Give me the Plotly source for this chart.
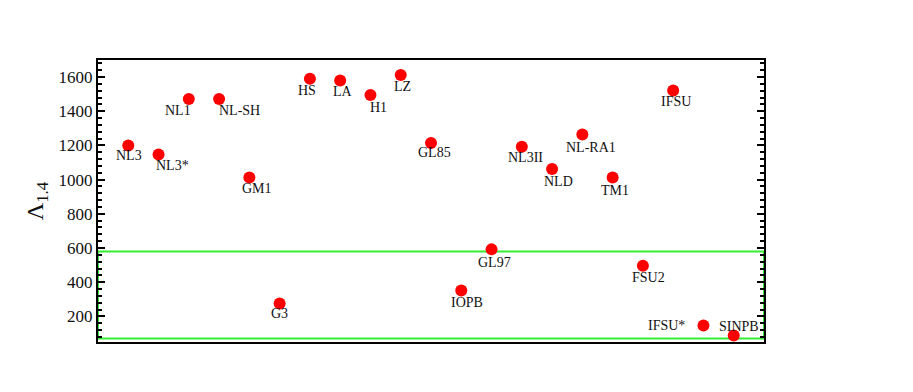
import plotly.graph_objects as go

# tidal deformability of a 1.4 Msun star for each model
models = ["NL3", "NL3*", "NL1", "NL-SH", "GM1", "G3", "HS", "LA", "H1", "LZ",
          "GL85", "IOPB", "GL97", "NL3II", "NLD", "NL-RA1", "TM1", "FSU2",
          "IFSU", "IFSU*", "SINPB"]
lambda_14 = [1200, 1147, 1472, 1472, 1012, 275, 1590, 1580, 1495, 1612,
             1215, 351, 592, 1192, 1062, 1264, 1012, 496, 1522, 147, 88]

# constraint band (GW170817)
band_low, band_high = 70, 580

# label offsets in pixels (dx right, dy down) - purely cosmetic
label_shift = [(1, 10), (14, 11), (-11, 12), (20, 12), (8, 11), (0, 10),
               (-3, 12), (3, 11), (8, 12), (2, 11), (3, 10), (6, 12),
               (3, 13), (4, 11), (6, 12), (9, 13), (2, 13), (6, 12),
               (3, 11), (-37, 0), (5, -9)]

xs = list(range(1, len(models) + 1))
serif = "Liberation Serif"

fig = go.Figure()

fig.add_shape(
    type="rect", xref="x", yref="y",
    x0=0, x1=len(models) + 1, y0=band_low, y1=band_high,
    line=dict(color="#33ee33", width=2), layer="below",
)

fig.add_trace(go.Scatter(
    x=xs, y=lambda_14, mode="markers",
    marker=dict(color="#ff0000", size=12, line=dict(width=0)),
    showlegend=False, hoverinfo="text", text=models,
))

for x, y, name, (dx, dy) in zip(xs, lambda_14, models, label_shift):
    fig.add_annotation(
        x=x, y=y, text=name, showarrow=False,
        xshift=dx, yshift=-dy,
        font=dict(family=serif, size=14, color="#111111"),
    )

# the page body adds 8px, so margins are trimmed by that much on left/top
fig.update_layout(
    width=913, height=392,
    margin=dict(l=90, r=157, t=52, b=58),
    plot_bgcolor="white", paper_bgcolor="white",
    font=dict(family=serif, color="#111111"),
)

fig.update_xaxes(
    range=[0, len(models) + 1], showticklabels=False, ticks="",
    showgrid=False, zeroline=False,
    showline=True, linecolor="black", linewidth=2, mirror=True,
)

fig.update_yaxes(
    range=[50, 1700], tickvals=[200, 400, 600, 800, 1000, 1200, 1400, 1600],
    ticks="inside", ticklen=7, tickwidth=1.5, tickcolor="black",
    minor=dict(dtick=40, tick0=0, ticks="inside", ticklen=4, tickcolor="black"),
    showgrid=False, zeroline=False,
    showline=True, linecolor="black", linewidth=2, mirror="ticks",
    tickfont=dict(family=serif, size=17, color="#111111"),
    title=dict(text="Λ<sub>1.4</sub>", font=dict(family=serif, size=24, color="#111111"),
               standoff=8),
)

fig.write_html("out.html")
